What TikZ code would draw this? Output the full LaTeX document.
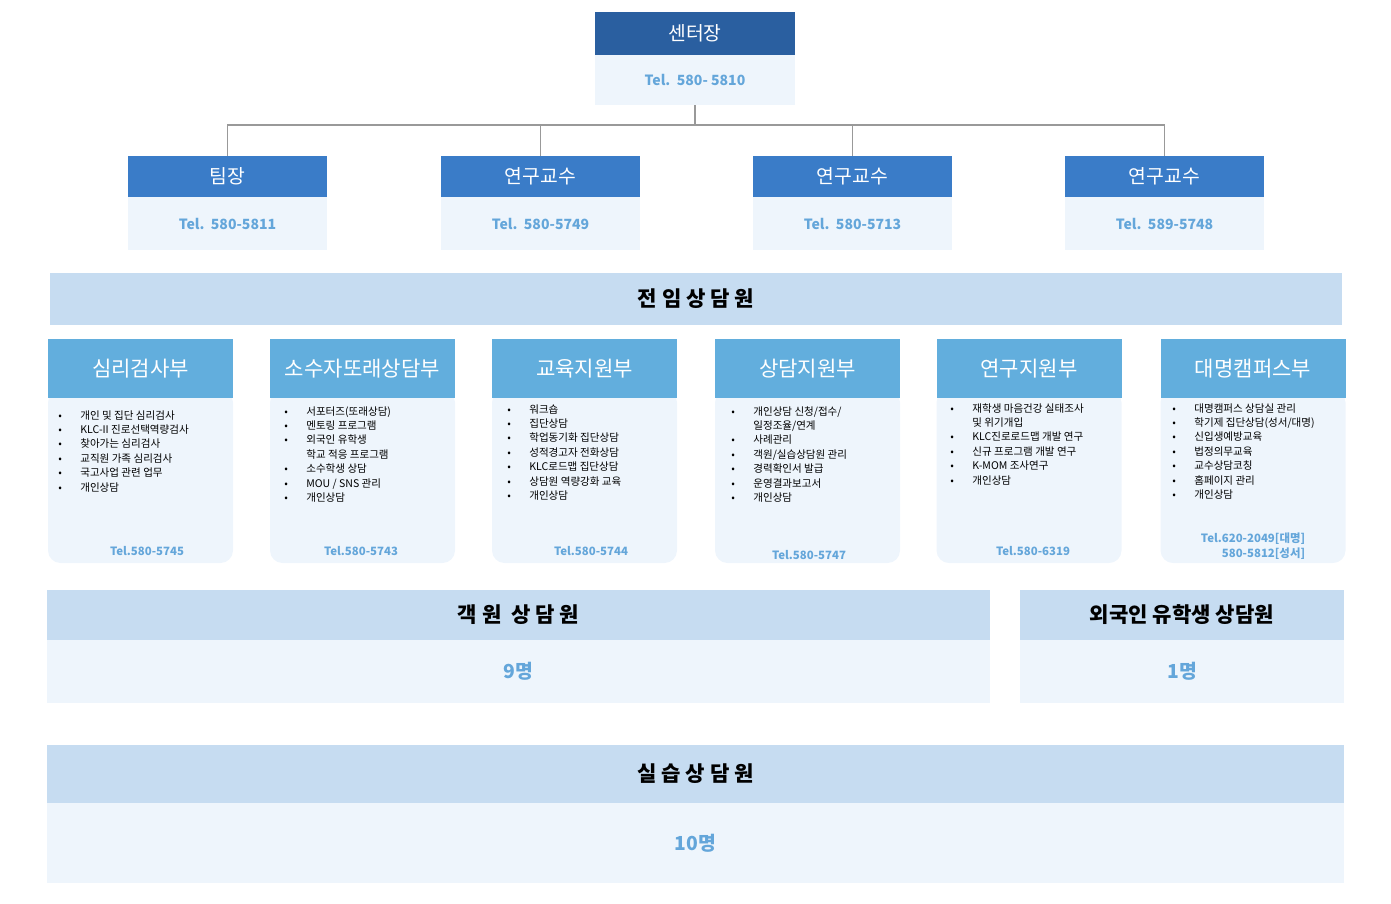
\documentclass[tikz,border=0pt]{standalone}
\usepackage{fontspec}
\setmainfont{Noto Sans CJK KR}
\definecolor{topblue}{HTML}{2A5FA0}
\definecolor{midblue}{HTML}{3A7CC8}
\definecolor{liteblue}{HTML}{62AEDD}
\definecolor{paleblue}{HTML}{EEF5FC}
\definecolor{bandblue}{HTML}{C6DCF1}
\definecolor{telblue}{HTML}{64A6DA}
\definecolor{linegray}{HTML}{999999}
\newcommand\bl{\makebox[4.4mm][l]{\textbullet}}
\newcommand\nb{\makebox[4.4mm][l]{}}
\tikzset{
  head/.style={fill=#1,text=white,inner sep=0,font=\fontsize{11}{13}\selectfont},
  body/.style={fill=paleblue,text=telblue,inner sep=0,font=\fontsize{8}{10}\selectfont\bfseries},
  band/.style={fill=bandblue,text=black,inner sep=0,font=\fontsize{12}{14}\selectfont\bfseries},
  lst/.style={anchor=north west,align=left,inner sep=0,font=\fontsize{6}{8.2}\selectfont},
  tel/.style={text=telblue,inner sep=0,font=\fontsize{6.5}{8.5}\selectfont\bfseries,align=right}
}
\begin{document}
\begin{tikzpicture}[x=0.02cm,y=-0.02cm]
\useasboundingbox (0,0) rectangle (1391,903);

% center head
\node[head=topblue,minimum width=4cm,minimum height=0.86cm] (ch) at (695,33.5) {센터장};
\node[body,minimum width=4cm,minimum height=1cm] (cb) at (695,80) {Tel.\ \ 580- 5810};

% second level
\foreach \i/\x/\name/\tel in {1/227.5/팀장/580-5811, 2/540.5/연구교수/580-5749, 3/852.5/연구교수/580-5713, 4/1164.5/연구교수/589-5748}{
  \node[head=midblue,minimum width=3.98cm,minimum height=0.82cm] (t\i) at (\x,176.5) {\name};
  \node[body,minimum width=3.98cm,minimum height=1.06cm] (tb\i) at (\x,223.5) {Tel.\ \ \tel};
}
\coordinate (j) at (695,125);
\draw[linegray,thick] (cb.south) -- (j);
\foreach \i in {1,...,4}
  \draw[linegray,thick] (j) -| (t\i.north);

% band
\node[band,minimum width=25.84cm,minimum height=1.04cm] (full) at (696,299) {전 임 상 담 원};

% departments
\foreach \i/\x/\name in {1/140.5/심리검사부, 2/362.5/소수자또래상담부, 3/584.5/교육지원부, 4/807.5/상담지원부, 5/1029/연구지원부, 6/1253/대명캠퍼스부}{
  \fill[paleblue,rounded corners=0.25cm] (\x-92.5,390) rectangle (\x+92.5,563);
  \node[head=liteblue,minimum width=3.7cm,minimum height=1.18cm,font=\fontsize{12}{14}\selectfont] (d\i) at (\x,368.5) {\name};
}
\node[lst] (l1) at (58,410) {\bl 개인 및 집단 심리검사\\ \bl KLC-II 진로선택역량검사\\ \bl 찾아가는 심리검사\\ \bl 교직원 가족 심리검사\\ \bl 국고사업 관련 업무\\ \bl 개인상담};
\node[lst] (l2) at (284,406) {\bl 서포터즈(또래상담)\\ \bl 멘토링 프로그램\\ \bl 외국인 유학생\\ \nb 학교 적응 프로그램\\ \bl 소수학생 상담\\ \bl MOU / SNS 관리\\ \bl 개인상담};
\node[lst] (l3) at (507,404) {\bl 워크숍\\ \bl 집단상담\\ \bl 학업동기화 집단상담\\ \bl 성적경고자 전화상담\\ \bl KLC로드맵 집단상담\\ \bl 상담원 역량강화 교육\\ \bl 개인상담};
\node[lst] (l4) at (731,406) {\bl 개인상담 신청/접수/\\ \nb 일정조율/연계\\ \bl 사례관리\\ \bl 객원/실습상담원 관리\\ \bl 경력확인서 발급\\ \bl 운영결과보고서\\ \bl 개인상담};
\node[lst] (l5) at (950,403) {\bl 재학생 마음건강 실태조사\\ \nb 및 위기개입\\ \bl KLC진로로드맵 개발 연구\\ \bl 신규 프로그램 개발 연구\\ \bl K-MOM 조사연구\\ \bl 개인상담};
\node[lst] (l6) at (1172,403) {\bl 대명캠퍼스 상담실 관리\\ \bl 학기제 집단상담(성서/대명)\\ \bl 신입생예방교육\\ \bl 법정의무교육\\ \bl 교수상담코칭\\ \bl 홈페이지 관리\\ \bl 개인상담};
\node[tel] (p1) at (147,551) {Tel.580-5745};
\node[tel] (p2) at (361,551) {Tel.580-5743};
\node[tel] (p3) at (591,551) {Tel.580-5744};
\node[tel] (p4) at (809,555) {Tel.580-5747};
\node[tel] (p5) at (1033,551) {Tel.580-6319};
\node[tel] (p6) at (1253,546) {Tel.620-2049[대명]\\580-5812[성서]};

% guest and foreign counsellors
\node[band,minimum width=18.86cm,minimum height=1cm] (g) at (518.5,615) {객 원 \ 상 담 원};
\node[body,minimum width=18.86cm,minimum height=1.26cm,font=\fontsize{11}{13}\selectfont\bfseries] (gb) at (518.5,671.5) {9명};
\node[band,minimum width=6.48cm,minimum height=1cm] (f) at (1182,615) {외국인 유학생 상담원};
\node[body,minimum width=6.48cm,minimum height=1.26cm,font=\fontsize{11}{13}\selectfont\bfseries] (fb) at (1182,671.5) {1명};

% trainees
\node[band,minimum width=25.94cm,minimum height=1.16cm] (s) at (695.5,774) {실 습 상 담 원};
\node[body,minimum width=25.94cm,minimum height=1.6cm,font=\fontsize{11}{13}\selectfont\bfseries] (sb) at (695.5,843) {10명};
\end{tikzpicture}
\end{document}
